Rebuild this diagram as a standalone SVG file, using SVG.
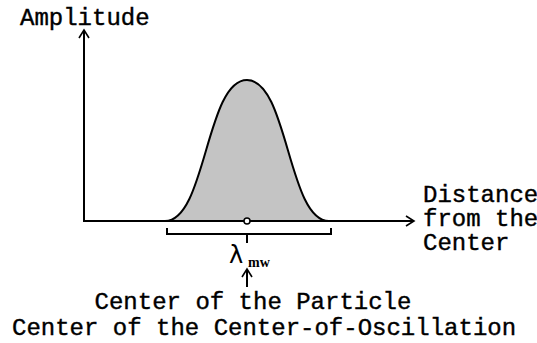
<svg xmlns="http://www.w3.org/2000/svg" width="537" height="343" viewBox="0 0 537 343">
<style>
.t{font-family:"Liberation Mono","Courier New",monospace;font-size:24px;fill:#000;stroke:#000;stroke-width:0.4}
.ln{stroke:#000;stroke-width:2;fill:none}
</style>
<defs>
<marker id="ah" markerWidth="12" markerHeight="12" refX="10" refY="6" orient="auto" markerUnits="userSpaceOnUse">
<path d="M2,1 L10,6 L2,11" fill="none" stroke="#000" stroke-width="1.6"/>
</marker>
</defs>
<rect width="537" height="343" fill="#fff"/>
<g id="curve">
<path d="M165,221 C206,221 206,80 247,80 C288,80 288,221 329,221 Z" fill="#c4c4c4" stroke="#000" stroke-width="2" stroke-linejoin="round"/>
</g>
<g id="connectors">
<line class="ln" x1="84" y1="221" x2="84" y2="30" marker-end="url(#ah)"/>
<line class="ln" x1="83" y1="221" x2="414" y2="221" marker-end="url(#ah)"/>
<path class="ln" d="M167,228 V234 H331 V228"/>
<line class="ln" x1="247" y1="234" x2="247" y2="243"/>
<line class="ln" x1="247" y1="287" x2="247" y2="269" marker-end="url(#ah)"/>
</g>
<g id="center-dot"><circle cx="247" cy="221" r="3" fill="#fff" stroke="#000" stroke-width="1.5"/></g>
<g id="amplitude"><text class="t" x="20" y="25">Amplitude</text></g>
<g id="distance">
<text class="t" x="423" y="202">Distance</text>
<text class="t" x="423" y="226">from the</text>
<text class="t" x="423" y="250">Center</text>
</g>
<g id="lambda">
<text x="229" y="263" font-family="'DejaVu Sans',sans-serif" font-size="24">λ</text>
<text x="248" y="267" font-family="'Liberation Serif',serif" font-size="14" font-weight="bold">mw</text>
</g>
<g id="labels">
<text class="t" x="253" y="309" text-anchor="middle">Center of the Particle</text>
<text class="t" x="12" y="335">Center of the Center-of-Oscillation</text>
</g>
</svg>
